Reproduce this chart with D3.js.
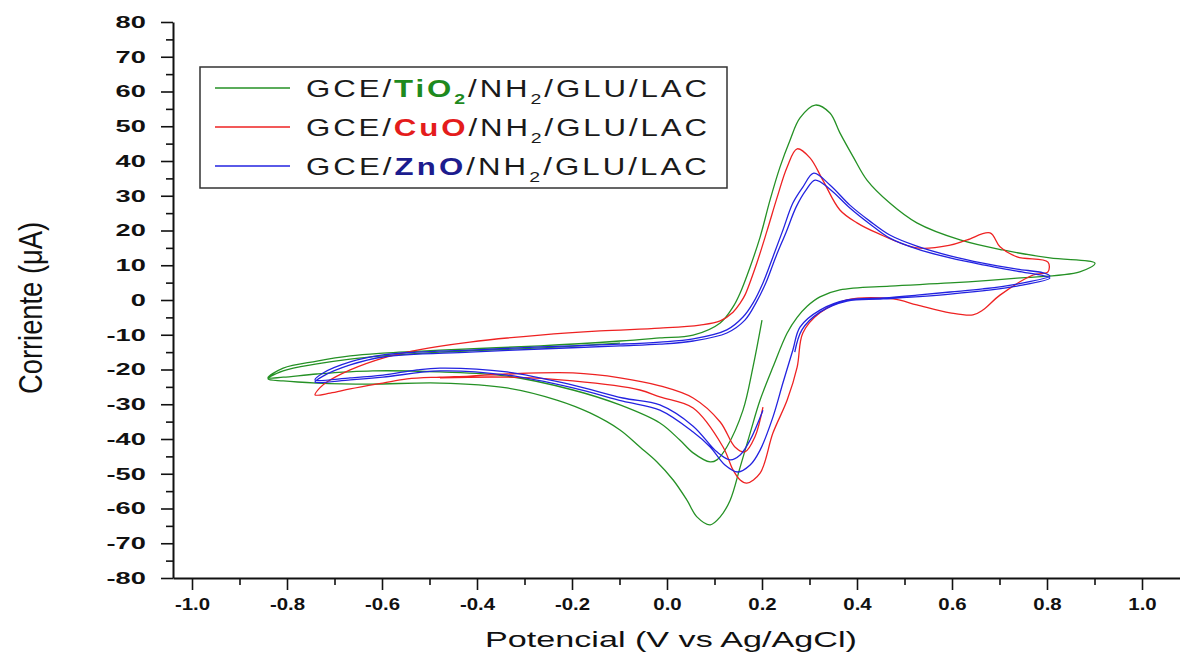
<!DOCTYPE html>
<html>
<head>
<meta charset="utf-8">
<script src="https://cdn.jsdelivr.net/npm/d3@7"></script>
<style>
  body { margin: 0; background: #fff; }
  svg { display: block; }
</style>
</head>
<body>
<div id="chart"></div>
<script>
// tick values
const xTicks = [-1.0, -0.8, -0.6, -0.4, -0.2, 0.0, 0.2, 0.4, 0.6, 0.8, 1.0];
const xMinorTicks = [-0.9, -0.7, -0.5, -0.3, -0.1, 0.1, 0.3, 0.5, 0.7, 0.9];
const yTicks = [-80, -70, -60, -50, -40, -30, -20, -10, 0, 10, 20, 30, 40, 50, 60, 70, 80];
const yMinorTicks = [-75, -65, -55, -45, -35, -25, -15, -5, 5, 15, 25, 35, 45, 55, 65, 75];

// voltammograms, [E (V), I (uA)] in scan order
const tio2 = [
  [0.200,-5.8],[0.181,-19.3],[0.160,-31.7],[0.126,-42.3],[0.105,-46.0],[0.091,-46.6],[0.055,-44.0],[0.027,-40.3],
  [-0.015,-35.4],[-0.099,-30.2],[-0.198,-25.9],[-0.337,-21.9],[-0.478,-20.7],[-0.619,-20.4],[-0.737,-21.3],
  [-0.808,-22.2],[-0.840,-22.4],
  [-0.808,-19.6],[-0.737,-17.6],[-0.667,-16.1],[-0.598,-15.3],[-0.478,-14.4],[-0.267,-13.2],[-0.099,-11.8],
  [-0.015,-10.9],[0.055,-10.1],[0.112,-6.6],[0.139,-2.0],[0.154,2.0],[0.175,9.5],[0.196,18.1],[0.217,28.8],
  [0.238,38.3],[0.259,46.0],[0.280,52.4],[0.312,56.1],[0.343,53.8],[0.364,48.1],[0.392,41.2],[0.421,34.5],
  [0.469,27.9],[0.526,22.2],[0.617,17.3],[0.707,14.4],[0.806,12.1],[0.901,10.6],
  [0.869,8.1],[0.737,6.3],[0.596,4.9],[0.469,4.0],[0.364,2.9],[0.322,0.9],[0.295,-1.8],[0.274,-5.0],
  [0.253,-9.5],[0.223,-19.3],[0.196,-28.8],[0.175,-38.3],[0.154,-48.1],[0.133,-57.6],[0.112,-62.4],
  [0.091,-64.7],[0.063,-62.4],[0.042,-57.6],[0.013,-51.8],[-0.021,-46.6],[-0.057,-42.3],[-0.099,-37.4],
  [-0.162,-32.5],[-0.232,-28.8],[-0.337,-25.3],[-0.478,-23.9],[-0.625,-24.2],[-0.737,-23.9],[-0.808,-23.3],
  [-0.840,-22.7],
  [-0.808,-20.4],[-0.737,-18.4],[-0.667,-17.0],[-0.598,-16.1],[-0.478,-15.0],[-0.267,-13.8],[-0.099,-12.4]
];

const cuo = [
  [0.202,-30.8],[0.185,-39.4],[0.164,-43.7],[0.143,-42.3],[0.112,-35.1],[0.055,-28.2],[-0.015,-24.7],
  [-0.099,-22.4],[-0.198,-21.0],[-0.337,-21.3],[-0.415,-21.9],[-0.478,-22.2],[-0.547,-22.7],[-0.598,-23.9],
  [-0.667,-25.6],[-0.709,-26.8],[-0.741,-27.3],
  [-0.731,-25.3],[-0.716,-23.6],[-0.667,-20.1],[-0.598,-16.7],[-0.526,-14.4],[-0.415,-12.1],[-0.267,-10.1],
  [-0.141,-8.9],[-0.015,-8.1],[0.069,-7.2],[0.112,-6.0],[0.139,-3.5],[0.154,-0.9],[0.164,1.4],[0.189,10.6],
  [0.211,20.1],[0.232,29.6],[0.253,38.3],[0.274,43.5],[0.301,40.9],[0.328,34.5],[0.364,25.9],[0.400,22.2],
  [0.442,19.3],[0.526,15.0],[0.596,15.8],[0.632,17.3],[0.680,19.3],[0.701,15.3],[0.737,12.4],[0.802,10.9],
  [0.802,8.1],
  [0.771,7.2],[0.701,1.4],[0.665,-2.9],[0.644,-4.3],[0.596,-3.7],[0.526,-1.4],[0.476,0.3],[0.379,0],
  [0.322,-3.7],[0.286,-9.5],[0.274,-19.3],[0.253,-28.8],[0.223,-38.3],[0.196,-49.8],[0.168,-52.7],
  [0.154,-51.8],[0.139,-48.9],[0.118,-42.3],[0.055,-31.1],[-0.015,-27.9],[-0.057,-25.9],[-0.198,-23.3],
  [-0.337,-22.2],[-0.478,-22.4]
];

const zno = [
  [0.202,-31.7],[0.175,-40.3],[0.154,-44.6],[0.133,-46.0],[0.105,-43.7],[0.055,-36.3],[-0.015,-30.2],
  [-0.093,-28.2],[-0.198,-24.5],[-0.337,-20.7],[-0.478,-19.6],[-0.526,-20.1],[-0.598,-21.6],[-0.667,-22.4],
  [-0.741,-23.0],
  [-0.724,-21.0],[-0.667,-17.8],[-0.598,-15.8],[-0.526,-15.0],[-0.415,-14.4],[-0.267,-13.5],[-0.099,-12.7],
  [-0.015,-12.1],[0.055,-11.2],[0.126,-8.6],[0.160,-4.9],[0.181,-0.9],[0.202,4.9],[0.223,12.4],[0.244,20.1],
  [0.265,27.9],[0.286,32.5],[0.309,36.5],[0.343,33.1],[0.385,27.3],[0.427,22.7],[0.469,18.7],[0.526,15.5],
  [0.596,12.7],[0.665,10.6],[0.737,8.9],[0.792,7.8],[0.806,6.9],
  [0.737,4.6],[0.665,3.2],[0.596,2.3],[0.526,1.4],[0.455,0.6],[0.379,0],[0.322,-2.9],[0.280,-7.8],
  [0.265,-14.4],[0.244,-23.9],[0.223,-33.7],[0.196,-43.2],[0.175,-47.5],[0.149,-49.5],[0.122,-47.5],
  [0.091,-42.3],[0.055,-38.0],[-0.015,-31.7],[-0.093,-29.1],[-0.198,-25.3],[-0.337,-21.6],[-0.478,-20.4],
  [-0.598,-22.2],[-0.667,-23.0],[-0.741,-23.6],
  [-0.724,-21.9],[-0.667,-18.7],[-0.598,-16.4],[-0.415,-15.0],[-0.267,-14.1],[-0.099,-13.2],[-0.015,-12.7],
  [0.055,-11.8],[0.126,-9.5],[0.164,-5.8],[0.187,-0.9],[0.208,4.9],[0.229,12.4],[0.251,19.6],[0.272,26.8],
  [0.293,31.7],[0.312,34.5],[0.343,31.9],[0.385,26.5],[0.427,21.9],[0.469,17.8],[0.526,14.7],[0.596,12.1],
  [0.665,10.1],[0.737,8.3],[0.806,6.3],
  [0.737,4.0],[0.596,1.7],[0.455,0.3],[0.379,-0.3],[0.322,-3.5],[0.284,-8.6],[0.269,-15.0]
];

const seriesOxides = ["TiO", "CuO", "ZnO"];
const seriesOxideSub = ["2", "", ""];

let width = 1180;
let height = 660;

let series = [
  { data: tio2, color: "#259125", textColor: "#1e8a1e" },
  { data: cuo, color: "#ee2222", textColor: "#e41c1c" },
  { data: zno, color: "#2323e0", textColor: "#1c1c8e" }
];

let svg = d3.select("#chart").append("svg")
  .attr("width", width)
  .attr("height", height)
  .style("font-family", "'Liberation Sans', Arial, sans-serif");

// scales
let x = d3.scaleLinear().domain([-1.04, 1.08]).range([173, 1180]);
let y = d3.scaleLinear().domain([-80, 80]).range([578, 22]);
let xLeft = x.range()[0];

// minor ticks
svg.append("g")
  .attr("transform", `translate(0, ${y(-80)})`)
  .call(d3.axisBottom(x).tickValues(xMinorTicks).tickSize(7).tickFormat(""))
  .call(g => g.select(".domain").remove())
  .selectAll("line").attr("stroke", "#111").attr("stroke-width", 1.6);

svg.append("g")
  .attr("transform", `translate(${xLeft}, 0)`)
  .call(d3.axisLeft(y).tickValues(yMinorTicks).tickSize(7).tickFormat(""))
  .call(g => g.select(".domain").remove())
  .selectAll("line").attr("stroke", "#111").attr("stroke-width", 1.6);

// major x axis
let xAxis = svg.append("g")
  .attr("transform", `translate(0, ${y(-80)})`)
  .call(d3.axisBottom(x).tickValues(xTicks).tickSize(12).tickSizeOuter(0));

xAxis.select(".domain").attr("stroke", "#111").attr("stroke-width", 2);
xAxis.selectAll("line").attr("stroke", "#111").attr("stroke-width", 1.6);
xAxis.selectAll("text")
  .attr("y", 20)
  .attr("fill", "#111")
  .attr("font-size", 17)
  .attr("font-weight", "bold")
  .attr("transform", "scale(1.2,1)")
  .text(d => d3.format(".1f")(d).replace("−", "-"));

// major y axis
let yAxis = svg.append("g")
  .attr("transform", `translate(${xLeft}, 0)`)
  .call(d3.axisLeft(y).tickValues(yTicks).tickSize(12).tickSizeOuter(0));

yAxis.select(".domain").attr("stroke", "#111").attr("stroke-width", 2);
yAxis.selectAll("line").attr("stroke", "#111").attr("stroke-width", 1.6);
yAxis.selectAll("text")
  .attr("x", -17)
  .attr("fill", "#111")
  .attr("font-size", 17)
  .attr("font-weight", "bold")
  .attr("transform", "scale(1.6,1)")
  .text(d => String(d));

// axis titles
svg.append("text")
  .attr("transform", "translate(42, 308) rotate(-90) scale(1, 1.35)")
  .attr("text-anchor", "middle")
  .attr("font-size", 24)
  .attr("fill", "#111")
  .attr("textLength", 172)
  .attr("lengthAdjust", "spacingAndGlyphs")
  .text("Corriente (μA)");

svg.append("text")
  .attr("x", 671)
  .attr("y", 647)
  .attr("text-anchor", "middle")
  .attr("font-size", 22)
  .attr("fill", "#111")
  .attr("textLength", 372)
  .attr("lengthAdjust", "spacingAndGlyphs")
  .text("Potencial (V vs Ag/AgCl)");

// curves
let line = d3.line()
  .x(d => x(d[0]))
  .y(d => y(d[1]))
  .curve(d3.curveCatmullRom.alpha(0.5));

svg.append("g")
  .selectAll("path")
  .data(series)
  .join("path")
  .attr("d", d => line(d.data))
  .attr("fill", "none")
  .attr("stroke", d => d.color)
  .attr("stroke-width", 1.3)
  .attr("stroke-linejoin", "round");

// legend
let legend = svg.append("g");

legend.append("rect")
  .attr("x", 200)
  .attr("y", 67)
  .attr("width", 527)
  .attr("height", 121)
  .attr("fill", "white")
  .attr("stroke", "#333")
  .attr("stroke-width", 1.5);

let legendScale = 1.3;

series.forEach((s, i) => {
  let ly = 88 + i * 39;
  legend.append("line")
    .attr("x1", 215).attr("x2", 290)
    .attr("y1", ly).attr("y2", ly)
    .attr("stroke", s.color)
    .attr("stroke-width", 1.3);

  let t = legend.append("text")
    .attr("transform", `translate(306, ${ly + 9}) scale(${legendScale}, 1)`)
    .attr("font-size", 24)
    .attr("fill", "#1a1a1a");

  t.append("tspan").text("GCE/");
  t.append("tspan")
    .attr("font-weight", "bold")
    .attr("fill", s.textColor)
    .text(seriesOxides[i]);
  if (seriesOxideSub[i]) {
    t.append("tspan")
      .attr("font-weight", "bold")
      .attr("fill", s.textColor)
      .attr("font-size", 15)
      .attr("dy", 7)
      .text(seriesOxideSub[i]);
    t.append("tspan").attr("dy", -7).text("/NH");
  } else {
    t.append("tspan").text("/NH");
  }
  t.append("tspan").attr("font-size", 15).attr("dy", 7).text("2");
  t.append("tspan").attr("dy", -7).text("/GLU/LAC");

  // spread letters so the row ends where the reference row ends
  let natural = t.node().getComputedTextLength();
  let nChars = t.text().length;
  t.attr("letter-spacing", Math.max(0, (404 / legendScale - natural) / nChars));
});
</script>
</body>
</html>
